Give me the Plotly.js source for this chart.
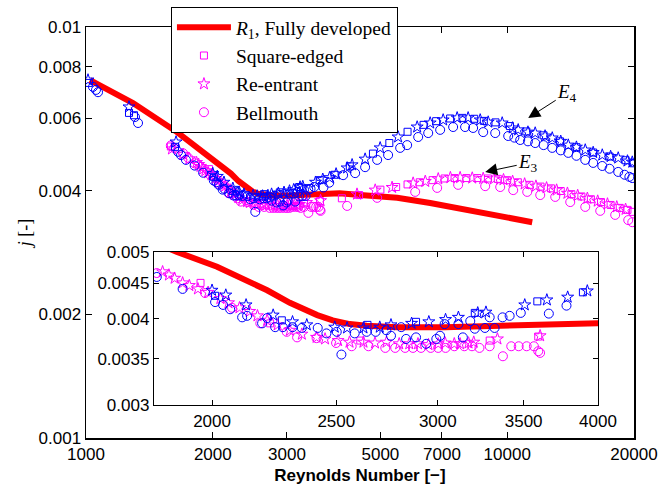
<!DOCTYPE html>
<html>
<head>
<meta charset="utf-8">
<script src="https://cdn.plot.ly/plotly-3.0.1.min.js"></script>
<style>html,body{margin:0;padding:0;background:#fff;}#chart{width:659px;height:490px;}</style>
</head>
<body>
<div id="chart"></div>
<script>
// ---- Data ----
var redRe = [1022, 1293, 1645, 1878, 2018, 2208, 2300, 2416, 2484, 2561, 2640, 2788, 3037, 3437, 4000, 4476, 5480, 6563, 7863, 9625, 11466];
var redJ  = [0.00743, 0.00653, 0.00555, 0.00500, 0.00476, 0.00440, 0.00422, 0.00405, 0.00398, 0.00393, 0.00391, 0.00389, 0.00389, 0.00392, 0.00394, 0.00390, 0.00384, 0.00373, 0.00361, 0.00347, 0.00335];

// E4 (blue)
var e4SquareRe = [1017, 1265, 1300, 1627, 2011, 2267, 2644, 2885, 3206, 3587, 3893, 4230, 4800, 5250, 5800, 6330, 6780, 7320, 7830, 8350, 8800, 9380, 10150, 11100, 12200, 13350, 14600, 16000, 17500, 19100, 19900];
var e4SquareJ  = [0.00731, 0.00618, 0.00610, 0.00511, 0.00432, 0.00398, 0.00392, 0.00396, 0.00408, 0.00424, 0.00437, 0.00458, 0.00492, 0.00522, 0.00556, 0.00578, 0.00590, 0.00599, 0.00601, 0.00598, 0.00591, 0.00586, 0.00574, 0.00557, 0.00545, 0.00527, 0.00510, 0.00495, 0.00484, 0.00474, 0.00466];

var e4StarRe = [1011, 1265, 1636, 2000, 2050, 2126, 2232, 2311, 2371, 2493, 2549, 2625, 2703, 2758, 2862, 2952, 3042, 3113, 3223, 3271, 3507, 3649, 3788, 3924, 4169, 4283, 4599, 4993, 5509, 6113, 6563, 7046, 7606, 8077, 8627, 9013, 9730, 10300, 10619, 11200, 11654, 12300, 12792, 13400, 13963, 14600, 15322, 16000, 16815, 17600, 18347, 19300, 19813];
var e4StarJ  = [0.00743, 0.00639, 0.00525, 0.00440, 0.00433, 0.00419, 0.00405, 0.00396, 0.00392, 0.00389, 0.00388, 0.00388, 0.00389, 0.00392, 0.00394, 0.00396, 0.00399, 0.00402, 0.00408, 0.00409, 0.00419, 0.00426, 0.00430, 0.00439, 0.00454, 0.00462, 0.00477, 0.00508, 0.00540, 0.00571, 0.00584, 0.00594, 0.00601, 0.00601, 0.00594, 0.00587, 0.00584, 0.00568, 0.00562, 0.00555, 0.00552, 0.00543, 0.00537, 0.00527, 0.00516, 0.00510, 0.00502, 0.00495, 0.00488, 0.00484, 0.00480, 0.00472, 0.00469];

var e4CircleRe = [1039, 1056, 1068, 1307, 1329, 1654, 1681, 1727, 1811, 1897, 2011, 2040, 2066, 2111, 2130, 2188, 2208, 2240, 2271, 2311, 2350, 2418, 2456, 2502, 2523, 2584, 2640, 2683, 2735, 2758, 2809, 2834, 2885, 2938, 2992, 3012, 3037, 3113, 3138, 3180, 3206, 3265, 3293, 3322, 3370, 3413, 3482, 3662, 3780, 4078, 4355, 4599, 4912, 5215, 5570, 5787, 6147, 6493, 6932, 7441, 7944, 8300, 8770, 9366, 10055, 10400, 10737, 11200, 11654, 12200, 12792, 13400, 13963, 14600, 15322, 16000, 16815, 17500, 18347, 19000, 19500, 19813];
var e4CircleJ  = [0.00715, 0.00703, 0.00694, 0.00604, 0.00584, 0.00497, 0.00488, 0.00475, 0.00460, 0.00442, 0.00423, 0.00419, 0.00413, 0.00402, 0.00404, 0.00394, 0.00401, 0.00389, 0.00389, 0.00389, 0.00388, 0.00388, 0.00381, 0.00383, 0.00355, 0.00381, 0.00383, 0.00383, 0.00385, 0.00378, 0.00389, 0.00374, 0.00376, 0.00368, 0.00374, 0.00378, 0.00393, 0.00393, 0.00376, 0.00397, 0.00387, 0.00388, 0.00402, 0.00388, 0.00402, 0.00404, 0.00408, 0.00407, 0.00418, 0.00436, 0.00441, 0.00456, 0.00475, 0.00488, 0.00508, 0.00516, 0.00540, 0.00552, 0.00562, 0.00571, 0.00571, 0.00568, 0.00555, 0.00552, 0.00543, 0.00538, 0.00531, 0.00527, 0.00522, 0.00516, 0.00508, 0.00501, 0.00494, 0.00486, 0.00475, 0.00467, 0.00459, 0.00452, 0.00444, 0.00437, 0.00432, 0.00429];

// E3 (magenta)
var e3SquareRe = [1590, 1959, 2220, 2610, 3293, 3593, 4050, 4450, 5000, 5450, 5800, 6200, 6650, 7100, 7500, 8000, 8500, 9000, 9500, 10000, 10600, 11300, 12000, 12700, 13400, 14200, 15000, 15800, 16700, 17600, 18500, 19300, 19900];
var e3SquareJ  = [0.00512, 0.00451, 0.00394, 0.00372, 0.00372, 0.00377, 0.00383, 0.00390, 0.00402, 0.00408, 0.00414, 0.00419, 0.00424, 0.00428, 0.00429, 0.00429, 0.00429, 0.00428, 0.00427, 0.00424, 0.00419, 0.00413, 0.00409, 0.00405, 0.00399, 0.00392, 0.00387, 0.00381, 0.00375, 0.00369, 0.00363, 0.00359, 0.00355];

var e3StarRe = [1600, 1700, 1760, 1830, 1851, 1870, 1897, 1920, 1950, 1986, 2030, 2060, 2101, 2140, 2170, 2208, 2250, 2300, 2350, 2413, 2450, 2508, 2560, 2625, 2680, 2736, 2799, 2850, 2895, 2950, 3002, 3040, 3090, 3122, 3170, 3200, 3339, 3605, 4400, 4860, 5330, 5980, 6390, 6860, 7330, 7730, 8260, 8770, 9300, 9800, 10300, 11000, 11700, 12400, 13100, 13900, 14700, 15500, 16400, 17300, 18200, 19100];
var e3StarJ  = [0.00505, 0.00490, 0.00478, 0.00468, 0.00463, 0.00458, 0.00451, 0.00447, 0.00442, 0.00437, 0.00428, 0.00422, 0.00415, 0.00410, 0.00404, 0.00398, 0.00392, 0.00385, 0.00380, 0.00376, 0.00374, 0.00372, 0.00370, 0.00370, 0.00369, 0.00370, 0.00368, 0.00368, 0.00368, 0.00367, 0.00368, 0.00369, 0.00368, 0.00368, 0.00369, 0.00370, 0.00374, 0.00378, 0.00392, 0.00401, 0.00407, 0.00417, 0.00421, 0.00427, 0.00430, 0.00430, 0.00429, 0.00428, 0.00427, 0.00425, 0.00421, 0.00415, 0.00410, 0.00406, 0.00401, 0.00394, 0.00389, 0.00383, 0.00377, 0.00371, 0.00365, 0.00360];

var e3CircleRe = [1590, 1620, 1700, 1750, 1811, 1975, 2073, 2181, 2287, 2330, 2413, 2499, 2570, 2649, 2730, 2779, 2829, 2869, 2911, 2962, 3002, 3042, 3090, 3146, 3190, 3233, 3293, 3372, 3423, 3469, 3519, 3565, 3593, 3605, 4169, 4912, 6047, 6819, 7648, 8866, 9625, 10334, 11156, 11978, 13002, 14113, 15322, 16629, 18046, 19380, 19813];
var e3CircleJ  = [0.00515, 0.00508, 0.00493, 0.00480, 0.00466, 0.00436, 0.00415, 0.00394, 0.00383, 0.00376, 0.00375, 0.00369, 0.00365, 0.00365, 0.00363, 0.00363, 0.00363, 0.00363, 0.00363, 0.00363, 0.00363, 0.00363, 0.00365, 0.00365, 0.00365, 0.00363, 0.00365, 0.00353, 0.00365, 0.00365, 0.00365, 0.00365, 0.00359, 0.00357, 0.00367, 0.00384, 0.00397, 0.00406, 0.00413, 0.00410, 0.00408, 0.00401, 0.00397, 0.00390, 0.00386, 0.00375, 0.00365, 0.00357, 0.00349, 0.00339, 0.00335];

// Tick labels
var mainXTicks = [1000, 2000, 3000, 5000, 7000, 10000, 20000];
var mainXLabels = ['1000', '2000', '3000', '5000', '7000', '10000', '20000'];
var mainYTicks = [0.001, 0.002, 0.004, 0.006, 0.008, 0.01];
var mainYLabels = ['0.001', '0.002', '0.004', '0.006', '0.008', '0.01'];
var insetXTicks = [2000, 2500, 3000, 3500, 4000];
var insetXLabels = ['2000', '2500', '3000', '3500', '4000'];
var insetYTicks = [0.003, 0.0035, 0.004, 0.0045, 0.005];
var insetYLabels = ['0.003', '0.0035', '0.004', '0.0045', '0.005'];

var legendNames = ['<i>R</i><sub>1</sub>, Fully developed', 'Square-edged', 'Re-entrant', 'Bellmouth'];

// ---- Build traces ----
var RED = '#ff0000', BLUE = '#0000ff', MAG = '#ff00ff';
function mk(xs, ys, sym, col, size, name, showleg, xa, ya, grp) {
  return {x: xs, y: ys, type: 'scatter', mode: 'markers', name: name,
    showlegend: showleg, legendgroup: grp, xaxis: xa, yaxis: ya,
    marker: {symbol: sym, size: size, color: col, line: {color: col, width: 1}}};
}
function redTrace(xa, ya, showleg) {
  return {x: redRe, y: redJ, type: 'scatter', mode: 'lines', name: legendNames[0],
    showlegend: showleg, legendgroup: 'g0', xaxis: xa, yaxis: ya,
    line: {color: RED, width: 6}};
}
function setFor(xa, ya, main) {
  return [
    redTrace(xa, ya, main),
    mk(e3SquareRe, e3SquareJ, 'square-open', MAG, 7, legendNames[1], main, xa, ya, 'g1'),
    mk(e3StarRe, e3StarJ, 'star-open', MAG, 9, legendNames[2], main, xa, ya, 'g2'),
    mk(e3CircleRe, e3CircleJ, 'circle-open', MAG, 9, legendNames[3], main, xa, ya, 'g3'),
    mk(e4SquareRe, e4SquareJ, 'square-open', BLUE, 7, 'E4 ' + legendNames[1], false, xa, ya, 'g1'),
    mk(e4StarRe, e4StarJ, 'star-open', BLUE, 9, 'E4 ' + legendNames[2], false, xa, ya, 'g2'),
    mk(e4CircleRe, e4CircleJ, 'circle-open', BLUE, 9, 'E4 ' + legendNames[3], false, xa, ya, 'g3')
  ];
}
var traces = setFor('x', 'y', true).concat(setFor('x2', 'y2', false));

var axisCommon = {type: 'log', showline: true, linecolor: '#000', mirror: 'ticks',
  ticks: 'inside', tickcolor: '#000', showgrid: false, zeroline: false,
  tickfont: {family: 'Liberation Sans, Arial, sans-serif', size: 17, color: '#000'}};

var SERIF = 'Liberation Serif, Times New Roman, serif';
var layout = {
  width: 659, height: 490,
  margin: {l: 86, r: 25, t: 27, b: 52, autoexpand: false},
  paper_bgcolor: '#fff', plot_bgcolor: '#fff',
  font: {family: 'Liberation Sans, Arial, sans-serif', size: 17, color: '#000'},
  showlegend: true,
  xaxis: Object.assign({}, axisCommon, {
    range: [Math.log10(1000), Math.log10(20000)], linewidth: 1.5, ticklen: 6,
    tickmode: 'array', tickvals: mainXTicks, ticktext: mainXLabels,
    title: {text: '<b>Reynolds Number [\u2212]</b>', font: {size: 17}, standoff: 6}
  }),
  yaxis: Object.assign({}, axisCommon, {
    range: [Math.log10(0.001), Math.log10(0.01)], linewidth: 1.5, ticklen: 6,
    tickmode: 'array', tickvals: mainYTicks, ticktext: mainYLabels,
    title: {text: '<i>j</i> [-]', font: {family: SERIF, size: 18}, standoff: 2}
  }),
  xaxis2: Object.assign({}, axisCommon, {
    domain: [0.1241, 0.9343], anchor: 'y2', linewidth: 1.2, ticklen: 5,
    range: [Math.log10(1802), Math.log10(4000)],
    tickmode: 'array', tickvals: insetXTicks, ticktext: insetXLabels
  }),
  yaxis2: Object.assign({}, axisCommon, {
    domain: [0.0803, 0.4526], anchor: 'x2', linewidth: 1.2, ticklen: 5,
    range: [Math.log10(0.003), Math.log10(0.005)],
    tickmode: 'array', tickvals: insetYTicks, ticktext: insetYLabels
  }),
  legend: {x: 0.155, y: 1.0487, xanchor: 'left', yanchor: 'top',
    bgcolor: '#fff', bordercolor: '#000', borderwidth: 1,
    font: {family: SERIF, size: 19.5, color: '#000'},
    itemwidth: 54, tracegroupgap: 1, traceorder: 'normal'},
  annotations: [
    {xref: 'x', yref: 'y', x: Math.log10(11218), y: Math.log10(0.00601),
     text: '<i>E</i><sub>4</sub>', showarrow: true, arrowhead: 2, arrowsize: 2.4, arrowwidth: 1,
     arrowcolor: '#000', ax: 39, ay: -25,
     font: {family: SERIF, size: 19, color: '#000'}},
    {xref: 'x', yref: 'y', x: Math.log10(8866), y: Math.log10(0.00444),
     text: '<i>E</i><sub>3</sub>', showarrow: true, arrowhead: 2, arrowsize: 2.4, arrowwidth: 1,
     arrowcolor: '#000', ax: 43, ay: -9,
     font: {family: SERIF, size: 19, color: '#000'}}
  ]
};

Plotly.newPlot('chart', traces, layout, {displayModeBar: false, staticPlot: true});
</script>
</body>
</html>
